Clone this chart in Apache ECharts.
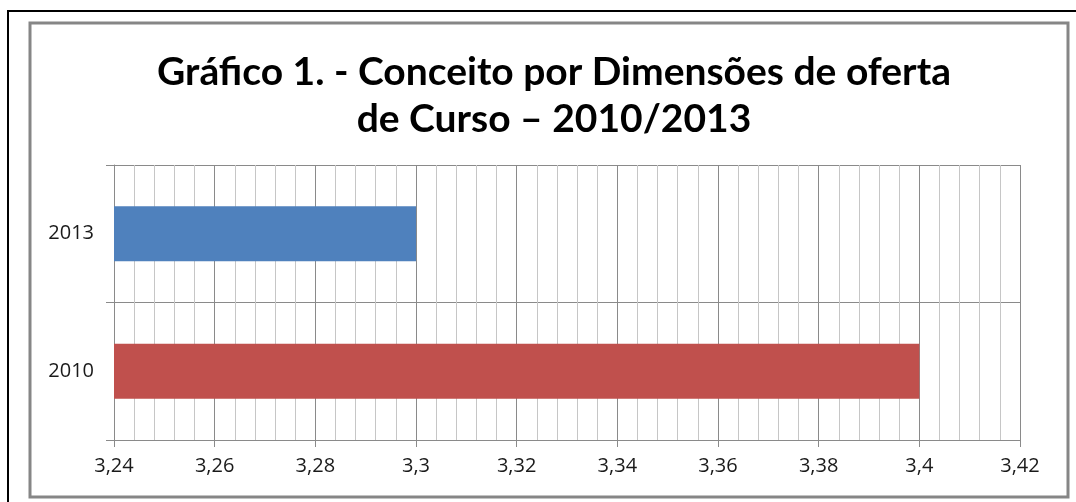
<!DOCTYPE html>
<html>
<head>
<meta charset="utf-8">
<script src="https://cdn.jsdelivr.net/npm/echarts@6/dist/echarts.min.js"></script>
<style>
html, body { margin: 0; padding: 0; background: #fff; }
#chart { width: 1076px; height: 502px; }
</style>
</head>
<body>
<div id="chart"></div>
<script>
// dados do gráfico
var anos = ['2010', '2013'];
var conceitos = [3.40, 3.30];
var cores = ['#C0504D', '#4F81BD'];
var eixoMin = 3.24, eixoMax = 3.42, eixoPasso = 0.02;

var chart = echarts.init(document.getElementById('chart'));
chart.setOption({
	backgroundColor: '#fff',
	animation: false,
	title: {
		text: 'Gráfico 1. - Conceito por Dimensões de oferta\nde Curso – 2010/2013',
		left: 549,
		textAlign: 'center',
		top: 44,
		textStyle: {
			fontFamily: 'Lato',
			fontWeight: 'bold',
			fontSize: 39,
			lineHeight: 47,
			color: '#000'
		}
	},
	graphic: [
		{ type: 'rect', shape: { x: 8, y: 11, width: 1100, height: 520 }, style: { fill: 'none', stroke: '#000', lineWidth: 2 }, silent: true },
		{ type: 'rect', shape: { x: 30, y: 23, width: 1038, height: 474 }, style: { fill: 'none', stroke: '#868686', lineWidth: 3 }, silent: true }
	],
	grid: { left: 114, right: 56, top: 165, bottom: 62, containLabel: false },
	xAxis: {
		type: 'value',
		min: eixoMin,
		max: eixoMax,
		interval: eixoPasso,
		axisLine: { show: true, lineStyle: { color: '#8a8a8a', width: 1 } },
		axisTick: { show: true, length: 7, lineStyle: { color: '#8a8a8a' } },
		axisLabel: {
			margin: 16,
			fontFamily: 'Open Sans',
			fontSize: 20,
			color: '#1a1a1a',
			formatter: function (v) { return String(parseFloat(v.toFixed(2))).replace('.', ','); }
		},
		splitLine: { show: true, lineStyle: { color: '#8a8a8a', width: 1 } },
		minorTick: { show: false, splitNumber: 5 },
		minorSplitLine: { show: true, lineStyle: { color: '#c6c6c6', width: 1 } }
	},
	yAxis: {
		type: 'category',
		data: anos,
		axisLine: { show: true, lineStyle: { color: '#8a8a8a' } },
		axisTick: { show: true, length: 8, lineStyle: { color: '#8a8a8a' } },
		axisLabel: { margin: 20, fontFamily: 'Open Sans', fontSize: 20, color: '#1a1a1a' },
		splitLine: { show: true, lineStyle: { color: '#8a8a8a' } }
	},
	series: [{
		type: 'bar',
		barWidth: '40%',
		data: conceitos.map(function (v, i) {
			return { value: v, itemStyle: { color: cores[i] } };
		})
	}]
});
</script>
</body>
</html>
